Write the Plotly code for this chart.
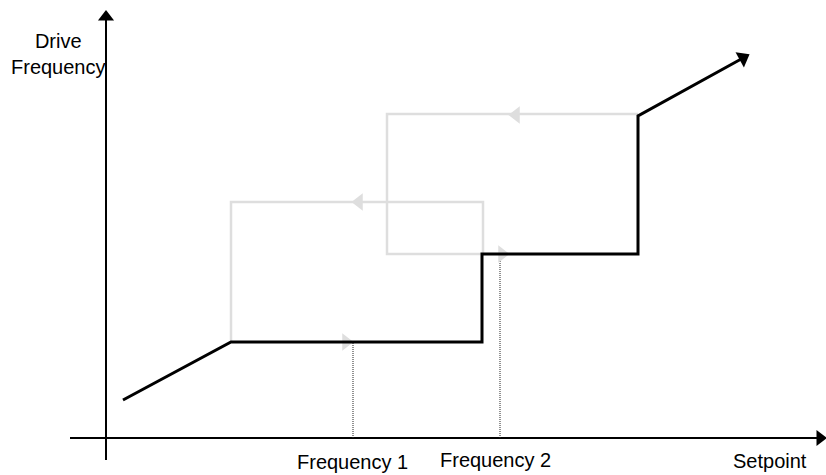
"""
Drive frequency vs setpoint: skip-frequency hysteresis diagram.
Coordinates are in diagram units, origin at the axes crossing.
"""
import math

import plotly.graph_objects as go

# main (black) drive-frequency path
path_x = [17, 125, 376, 376, 532, 532, 637]
path_y = [38, 96, 96, 184, 184, 322, 380]

# grey hysteresis loops (return paths)
loop1_x = [125, 125, 377, 377]
loop1_y = [96, 236, 236, 184]
loop2_x = [376, 281, 281, 532]
loop2_y = [184, 184, 324, 324]

# grey direction arrows along the loops
left_arrow_x = [253, 410]
left_arrow_y = [236, 323]
right_arrow_x = [240, 396]
right_arrow_y = [96, 184]

# skip frequencies (dotted drop lines)
skip_x = [247, 394]
skip_top = [96, 184]
skip_labels = ["Frequency 1", "Frequency 2"]
skip_label_x = [246, 389]
skip_label_y = [-24, -22]

# axes extents
x_axis = [-36, 714]
y_axis = [-22, 421]

FONT = "Liberation Sans, Arial, sans-serif"
GREY = "#dedede"

fig = go.Figure()

# axes
fig.add_trace(go.Scatter(x=x_axis, y=[0, 0], mode="lines",
                         line=dict(color="black", width=2)))
fig.add_trace(go.Scatter(x=[0, 0], y=y_axis, mode="lines",
                         line=dict(color="black", width=2)))
fig.add_trace(go.Scatter(x=[x_axis[1]], y=[0], mode="markers",
                         marker=dict(symbol="triangle-right", size=14, color="black")))
fig.add_trace(go.Scatter(x=[0], y=[y_axis[1]], mode="markers",
                         marker=dict(symbol="triangle-up", size=14, color="black")))

# dotted drop lines
for sx, st in zip(skip_x, skip_top):
    fig.add_trace(go.Scatter(x=[sx, sx], y=[0, st], mode="lines",
                             line=dict(color="#222222", width=1, dash="1px,1px")))

# grey loops
for lx, ly in ((loop1_x, loop1_y), (loop2_x, loop2_y)):
    fig.add_trace(go.Scatter(x=lx, y=ly, mode="lines",
                             line=dict(color=GREY, width=2.5)))
fig.add_trace(go.Scatter(x=left_arrow_x, y=left_arrow_y, mode="markers",
                         marker=dict(symbol="triangle-left", size=15, color=GREY)))
fig.add_trace(go.Scatter(x=right_arrow_x, y=right_arrow_y, mode="markers",
                         marker=dict(symbol="triangle-right", size=15, color=GREY)))

# black path with arrow at the end (axes are 1 unit = 1 px, so the angle is direct)
fig.add_trace(go.Scatter(x=path_x, y=path_y, mode="lines",
                         line=dict(color="black", width=3)))
dx = path_x[-1] - path_x[-2]
dy = path_y[-1] - path_y[-2]
head_angle = 90 - math.degrees(math.atan2(dy, dx))
fig.add_trace(go.Scatter(x=[path_x[-1]], y=[path_y[-1]], mode="markers",
                         marker=dict(symbol="triangle-up", angle=head_angle,
                                     size=15, color="black")))

# labels
fig.add_annotation(x=-48, y=384, text="Drive<br>Frequency", showarrow=False,
                   font=dict(family=FONT, size=20, color="black"))
for t, lx, ly in zip(skip_labels, skip_label_x, skip_label_y):
    fig.add_annotation(x=lx, y=ly, text=t, showarrow=False,
                       font=dict(family=FONT, size=20, color="black"))
fig.add_annotation(x=664, y=-23, text="Setpoint", showarrow=False,
                   font=dict(family=FONT, size=20, color="black"))

fig.update_layout(
    width=826,
    height=475,
    margin=dict(l=0, r=0, t=0, b=0),
    paper_bgcolor="white",
    plot_bgcolor="white",
    showlegend=False,
    hovermode=False,
    xaxis=dict(range=[-106, 720], visible=False),
    yaxis=dict(range=[-37, 438], visible=False),
)

# page body has a default margin; drop it so the figure fills the window
fig.write_html("out.html", config={"displayModeBar": False},
               post_script="document.body.style.margin='0';")
